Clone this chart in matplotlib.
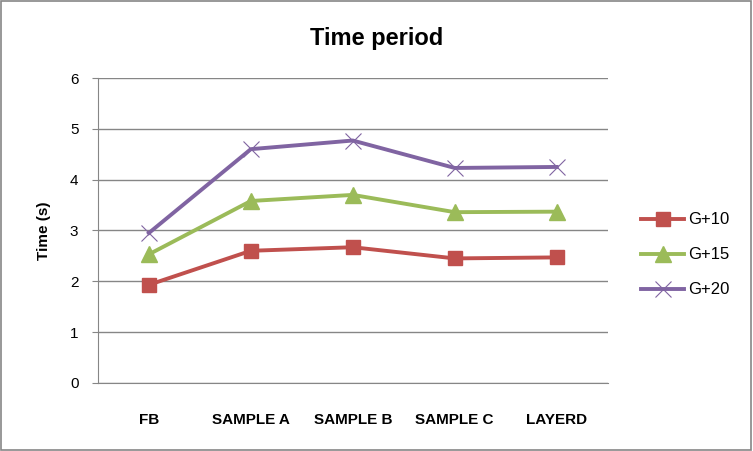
import numpy as np
import matplotlib
matplotlib.use('Agg')
import matplotlib.pyplot as plt
from matplotlib.patches import Rectangle

categories = ['FB', 'SAMPLE A', 'SAMPLE B', 'SAMPLE C', 'LAYERD']
g10 = [1.93, 2.60, 2.67, 2.45, 2.47]
g15 = [2.53, 3.58, 3.70, 3.36, 3.37]
g20 = [2.95, 4.60, 4.77, 4.23, 4.25]
yticks = [0, 1, 2, 3, 4, 5, 6]

plt.rcParams['font.family'] = ['Liberation Sans', 'DejaVu Sans']

fig = plt.figure(figsize=(7.53, 4.51), dpi=100)
ax = fig.add_axes([0.130, 0.151, 0.677, 0.676])

x = np.arange(len(categories))
ax.plot(x, g10, color='#C0504D', lw=2.8, marker='s', ms=10, label='G+10')
ax.plot(x, g15, color='#9BBB59', lw=2.8, marker='^', ms=11, label='G+15')
ax.plot(x, g20, color='#8064A2', lw=2.8, marker='x', ms=11, mew=0.8, label='G+20')

ax.set_xlim(-0.5, len(categories) - 0.5)
ax.set_ylim(0, 6)
ax.set_yticks(yticks)
ax.set_xticks(x)
ax.set_xticklabels(categories, fontweight='bold', fontsize=11)
ax.tick_params(axis='x', length=0, pad=22)
ax.tick_params(axis='y', length=4, color='#868686', labelsize=11, pad=10)
ax.grid(axis='y', color='#868686', lw=1)
ax.set_axisbelow(True)
for s in ['top', 'right']:
    ax.spines[s].set_visible(False)
for s in ['left', 'bottom']:
    ax.spines[s].set_color('#868686')

ax.set_ylabel('Time (s)', fontweight='bold', fontsize=11, labelpad=14)
fig.text(0.5, 0.915, 'Time period', ha='center', va='center', fontsize=17, fontweight='bold')

ax.legend(loc='center left', bbox_to_anchor=(1.036, 0.42), frameon=False,
          fontsize=12, handlelength=2.6, labelspacing=1.2, handletextpad=0.25)

fig.patches.append(Rectangle((0.001, 0.002), 0.997, 0.996, transform=fig.transFigure,
                             fill=False, edgecolor='#868686', lw=1.2))

fig.savefig('out.png', dpi=100)
